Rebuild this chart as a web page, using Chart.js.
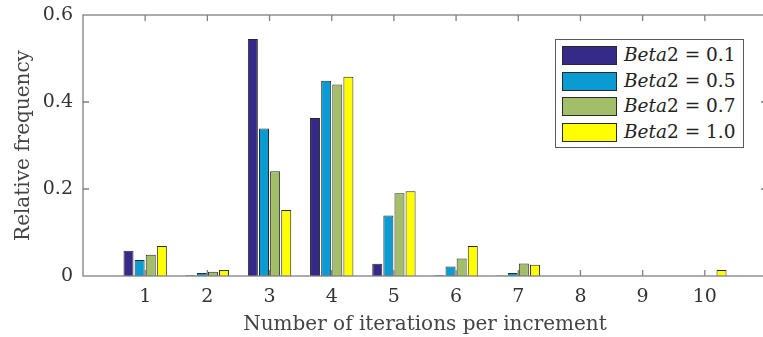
<!DOCTYPE html>
<html>
<head>
<meta charset="utf-8">
<script src="https://cdn.jsdelivr.net/npm/chart.js@4/dist/chart.umd.min.js"></script>
<style>
  html, body { margin: 0; padding: 0; background: #fff; overflow: hidden; }
  #wrap { position: relative; width: 763px; height: 337px; overflow: hidden; }
  #chart { position: absolute; left: 0; top: 0; }
  #legend {
    position: absolute; left: 555px; top: 39px; width: 187px; height: 107px;
    border: 1.2px solid #5a5a5a; background: #fff;
    font-family: "DejaVu Serif", serif; font-size: 18.5px; color: #222;
  }
  #legend .row { position: absolute; left: 6px; height: 19px; }
  #legend .sw { position: absolute; left: 0; top: 0; width: 53px; height: 17px; border: 1px solid #2a2a2a; }
  #legend .lbl { position: absolute; left: 62px; top: -3px; white-space: nowrap; line-height: 24px; }
</style>
</head>
<body>
<div id="wrap">
  <canvas id="chart" width="770" height="337"></canvas>
  <div id="legend"></div>
</div>
<script>
// ---- Data ----
const ITERATIONS = [1, 2, 3, 4, 5, 6, 7, 8, 9, 10];
const BETA_01 = [0.058, 0.002, 0.545, 0.363, 0.028, 0.002, 0.001, 0, 0, 0];
const BETA_05 = [0.037, 0.007, 0.339, 0.449, 0.139, 0.022, 0.007, 0, 0, 0];
const BETA_07 = [0.049, 0.010, 0.241, 0.440, 0.190, 0.040, 0.029, 0, 0, 0];
const BETA_10 = [0.069, 0.014, 0.152, 0.458, 0.195, 0.069, 0.026, 0, 0, 0.014];
const Y_TICKS = [0, 0.2, 0.4, 0.6];
const SERIES_NAMES = ["0.1", "0.5", "0.7", "1.0"];
const SERIES_COLORS = ["#352a87", "#0a9bd2", "#a3be68", "#ffff00"];

const FONT = '"DejaVu Serif", serif';
const AXIS_GREY = '#808080';

const seriesValues = [BETA_01, BETA_05, BETA_07, BETA_10];
const datasets = seriesValues.map((vals, i) => ({
  label: 'Beta2 = ' + SERIES_NAMES[i],
  data: ITERATIONS.map((x, j) => ({ x, y: vals[j] })),
  backgroundColor: SERIES_COLORS[i],
  borderColor: '#2a2a2a',
  borderWidth: 1,
  categoryPercentage: 0.715,
  barPercentage: 0.9
}));

// box around the plot + inward tick marks (MATLAB style)
const boxPlugin = {
  id: 'box',
  afterDatasetsDraw(chart) {
    const { ctx, chartArea: a, scales } = chart;
    ctx.save();
    ctx.strokeStyle = AXIS_GREY;
    ctx.lineWidth = 1.3;
    ctx.strokeRect(a.left, a.top, a.right - a.left, a.bottom - a.top);
    ctx.beginPath();
    ITERATIONS.forEach(v => {
      const px = scales.x.getPixelForValue(v);
      ctx.moveTo(px, a.bottom); ctx.lineTo(px, a.bottom - 6);
      ctx.moveTo(px, a.top);    ctx.lineTo(px, a.top + 6);
    });
    Y_TICKS.slice(1, -1).forEach(v => {
      const py = scales.y.getPixelForValue(v);
      ctx.moveTo(a.left, py);  ctx.lineTo(a.left + 6, py);
      ctx.moveTo(a.right, py); ctx.lineTo(a.right - 6, py);
    });
    ctx.stroke();
    ctx.restore();
  }
};

new Chart(document.getElementById('chart'), {
  type: 'bar',
  data: { datasets },
  options: {
    responsive: false,
    animation: false,
    layout: { padding: { top: 15, right: 3, bottom: 0, left: 0 } },
    plugins: { legend: { display: false }, tooltip: { enabled: false } },
    scales: {
      x: {
        type: 'linear',
        offset: false,
        min: 0, max: 11,
        grid: { display: false, drawTicks: false, offset: false },
        border: { display: false },
        afterBuildTicks: s => { s.ticks = ITERATIONS.map(v => ({ value: v })); },
        afterFit: s => { s.height = 61; s.paddingLeft = 0; s.paddingRight = 0; },
        ticks: {
          autoSkip: false, maxRotation: 0, padding: 10,
          color: '#333', font: { family: FONT, size: 19 },
          callback: v => String(v)
        },
        title: {
          display: true, text: 'Number of iterations per increment',
          color: '#444', font: { family: FONT, size: 20 },
          padding: { top: 1, bottom: 0 }
        }
      },
      y: {
        min: 0, max: 0.6,
        grid: { display: false, drawTicks: false },
        border: { display: false },
        afterBuildTicks: s => { s.ticks = Y_TICKS.map(v => ({ value: v })); },
        afterFit: s => { s.width = 83; s.paddingTop = 0; s.paddingBottom = 0; },
        ticks: {
          padding: 10, color: '#333', font: { family: FONT, size: 19 },
          callback: v => String(v)
        },
        title: {
          display: true, text: 'Relative frequency',
          color: '#444', font: { family: FONT, size: 20 },
          padding: { top: 12, bottom: 0 }
        }
      }
    }
  },
  plugins: [boxPlugin]
});

// ---- Legend (mixed italic text, so built as HTML) ----
const legend = document.getElementById('legend');
SERIES_NAMES.forEach((name, i) => {
  const row = document.createElement('div');
  row.className = 'row';
  row.style.top = (6 + i * 25.7) + 'px';
  row.innerHTML = `<div class="sw" style="background:${SERIES_COLORS[i]}"></div>` +
    `<div class="lbl"><i>Beta</i>2 = ${name}</div>`;
  legend.appendChild(row);
});
</script>
</body>
</html>
